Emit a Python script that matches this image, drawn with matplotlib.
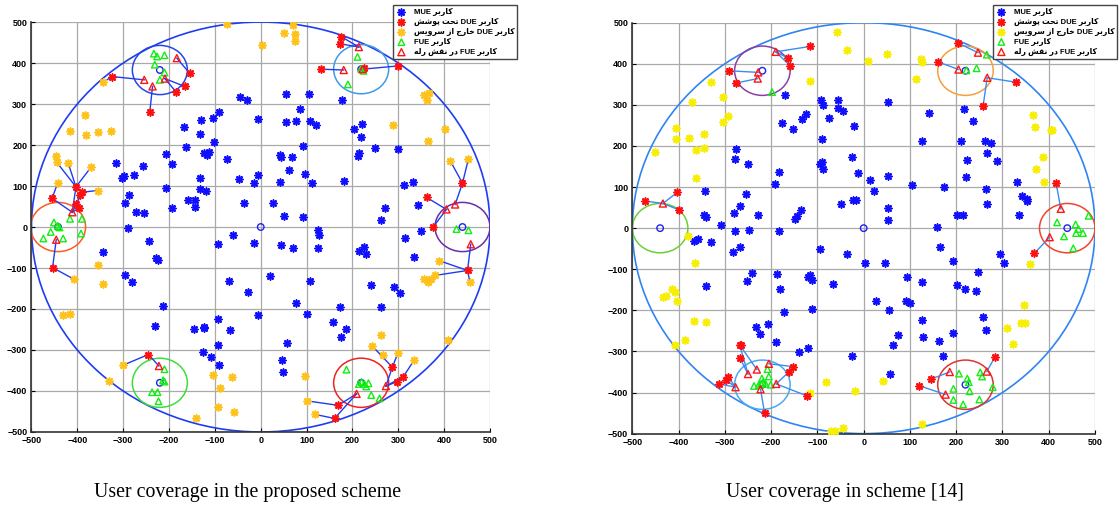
import numpy as np
import matplotlib.pyplot as plt
from matplotlib.patches import Circle

# ---------------- data: left panel (proposed scheme) ----------------
left_mue = [(-46, 316), (-29, 311), (-6, 264), (-91, 280), (-104, 266), (-131, 262), (-167, 245),
            (-132, 228), (-101, 207), (-164, 194), (-124, 181), (-118, 176), (-112, 184), (-206, 179),
            (-74, 165), (-194, 153), (-256, 149), (-315, 156), (-299, 124), (-302, 120), (-276, 128),
            (-132, 120), (-47, 116), (-6, 126), (-15, 107), (-287, 77), (-295, 59), (-206, 95),
            (-132, 92), (-120, 87), (-194, 47), (-158, 65), (-144, 65), (-144, 50), (-271, 37),
            (-255, 33), (-289, -2), (-36, 58),
            (55, 325), (105, 325), (177, 309), (86, 288), (55, 257), (76, 258), (108, 259), (120, 249),
            (203, 239), (221, 252), (218, 220), (249, 193), (300, 190), (92, 197), (41, 175), (44, 170),
            (68, 172), (214, 181), (212, 174), (62, 138), (96, 130), (43, 110), (111, 108), (181, 112),
            (312, 102), (331, 110), (27, 59), (50, 28), (92, 24), (271, 46), (342, 53), (263, 16),
            (124, -7), (127, -19), (315, -28), (350, -9), (44, -44), (71, -52), (124, -50), (225, -49),
            (-345, -60), (-243, -34), (-228, -75), (-225, -80), (-297, -117), (-281, -133), (-213, -193),
            (-230, -241), (-145, -250), (-124, -243), (-123, -246), (-94, -41), (-60, -19), (-15, -39),
            (-70, -131), (-28, -159), (-7, -215), (20, -120), (-94, -225), (-68, -251), (-93, -289),
            (-126, -304), (-109, -318), (-92, -337),
            (214, -59), (229, -65), (334, -72), (108, -131), (76, -185), (100, -211), (172, -194),
            (263, -196), (240, -141), (290, -146), (304, -162), (157, -232), (186, -249), (174, -269),
            (57, -284), (46, -325), (49, -354)]
left_due_out = [(-73, 495), (3, 443), (-344, 353), (-384, 274), (-417, 235), (-382, 225), (-354, 231),
                (-326, 234), (-446, 173), (-445, 158), (-420, 156), (-370, 146), (-356, 89), (-443, 107),
                (50, 474), (70, 492), (75, 470), (75, 454), (355, 322), (368, 327), (363, 311), (288, 248),
                (401, 240), (364, 211), (413, 162), (453, 166),
                (-354, -92), (-343, -138), (-408, -127), (-432, -215), (-415, -211), (-300, -337),
                (-331, -376), (-105, -360), (-62, -366), (-88, -393), (-93, -438), (-58, -451), (-142, -465),
                (389, -82), (355, -127), (365, -134), (372, -126), (381, -118), (456, -133), (262, -263),
                (409, -275), (243, -290), (267, -312), (299, -308), (335, -324), (97, -363), (100, -424),
                (118, -457)]
left_due_cov = [(-324, 367), (-242, 280), (-166, 343), (-185, 330), (-155, 375), (-403, 98), (-455, 70),
                (-389, 85), (-395, 79), (-397, 46), (-402, 55), (176, 464), (173, 447), (131, 385),
                (225, 388), (300, 393), (440, 107), (362, 72), (376, 0), (-454, -99), (-245, -311),
                (451, -106), (287, -342), (311, -365), (298, -377), (169, -435), (161, -467)]
left_fue_relay = [(-254, 359), (-236, 343), (-209, 362), (-183, 412), (-411, 36), (-446, -31),
                  (214, 439), (181, 383), (222, 385), (405, 43), (424, 55), (458, -42),
                  (-222, -339), (209, -407), (273, -388)]
left_fue = [(-233, 423), (-226, 416), (-210, 419), (-231, 396), (-210, 377), (-220, 359),
            (-451, 11), (-443, 3), (-439, -1), (-458, -12), (-474, -28), (-431, -28), (-416, 20),
            (-390, 20), (-392, -16), (211, 415), (190, 348), (219, 386), (224, 381), (427, -5), (453, -8),
            (-210, -347), (-213, -374), (-210, -377), (-225, -403), (-237, -403), (-223, -425),
            (187, -348), (220, -378), (214, -383), (226, -383), (235, -381), (230, -389), (241, -410),
            (259, -418)]
left_fbs = [(0, 0), (-220, 383), (219, 385), (-442, 0), (440, 0), (-220, -380), (219, -380)]
left_cell_colors = ['#2446e8', '#3d9be9', '#ff5a24', '#6a2ca8', '#3ddc3d', '#ee2222']
left_links = [(-324, 367, -254, 359), (-324, 367, -344, 353), (-242, 280, -236, 343),
              (-166, 343, -209, 362), (-185, 330, -209, 362), (-155, 375, -183, 412),
              (-403, 98, -445, 158), (-403, 98, -420, 156), (-403, 98, -370, 146), (-403, 98, -411, 36),
              (-455, 70, -443, 107), (-455, 70, -411, 36), (-389, 85, -356, 89), (-389, 85, -411, 36),
              (-397, 46, -411, 36), (-454, -99, -446, -31), (-454, -99, -408, -127),
              (-245, -311, -222, -339), (-245, -311, -300, -337),
              (176, 464, 214, 439), (173, 447, 214, 439), (131, 385, 181, 383), (300, 393, 222, 385),
              (440, 107, 413, 162), (440, 107, 453, 166), (440, 107, 424, 55), (362, 72, 405, 43),
              (376, 0, 405, 43), (389, -82, 451, -106), (381, -118, 451, -106), (451, -106, 456, -133),
              (451, -106, 458, -42), (243, -290, 287, -342), (299, -308, 287, -342), (287, -342, 273, -388),
              (335, -324, 311, -365), (311, -365, 273, -388), (298, -377, 273, -388),
              (100, -424, 169, -435), (169, -435, 209, -407), (118, -457, 161, -467), (161, -467, 209, -407)]

# ---------------- data: right panel (scheme [14]) ----------------
right_mue = [(-169, 323), (-177, 257), (-152, 242), (-133, 265), (-125, 277), (-93, 312), (-88, 300),
             (-55, 311), (-56, 293), (-44, 284), (-75, 269), (-20, 249), (-91, 216), (-26, 173),
             (-12, 135), (-94, 155), (-91, 160), (-89, 143), (-277, 193), (-279, 169), (-251, 156),
             (-184, 136), (-191, 108), (13, 117), (-342, 90), (-255, 83), (-267, 55), (-281, 36),
             (-346, 32), (-341, 28), (-228, 31), (-135, 45), (-144, 30), (-148, 22), (-49, 58), (-23, 68),
             (-17, 68), (-308, 7), (-278, -7), (-248, -5), (-184, -6), (-359, -27), (-366, -32),
             (-329, -34), (-267, -45), (-94, -50),
             (52, 306), (141, 280), (217, 289), (236, 261), (126, 211), (211, 212), (263, 212), (276, 207),
             (224, 166), (267, 182), (289, 164), (52, 126), (23, 91), (105, 104), (173, 101), (222, 125),
             (265, 96), (332, 112), (342, 79), (353, 71), (354, 66), (52, 48), (52, 20), (202, 32),
             (215, 32), (267, 58), (335, 32), (158, 3), (166, -45),
             (-283, -58), (-241, -108), (-252, -129), (-188, -111), (-180, -148), (-173, -204), (-35, -63),
             (3, -86), (-121, -120), (-117, -115), (-112, -127), (-67, -135), (-112, -196), (-341, -140),
             (-232, -241), (-224, -258), (-207, -234), (-190, -276), (-139, -302), (-121, -292), (-25, -312),
             (47, -86), (194, -80), (294, -63), (303, -86), (248, -106), (94, -118), (126, -130),
             (202, -139), (219, -148), (243, -153), (27, -178), (92, -178), (100, -181), (54, -200),
             (125, -224), (258, -217), (265, -249), (194, -254), (74, -259), (128, -266), (163, -274),
             (63, -285), (172, -310), (56, -356)]
right_due_out = [(-57, 478), (-35, 433), (9, 407), (-117, 359), (-329, 355), (-304, 320), (-372, 307),
                 (-294, 272), (-304, 259), (-405, 244), (-405, 216), (-378, 220), (-346, 229), (-346, 195),
                 (-362, 190), (-451, 185), (-362, 121), (-379, -19),
                 (51, 424), (124, 412), (126, 404), (113, 364), (367, 276), (370, 247), (404, 240),
                 (408, 240), (387, 174), (372, 145), (390, 113),
                 (-365, -84), (-415, -148), (-407, -156), (-433, -168), (-428, -164), (-403, -178),
                 (-366, -226), (-341, -228), (-386, -272), (-407, -285), (-82, -374), (-115, -401),
                 (-19, -396), (-71, -494), (-61, -494), (-45, -486),
                 (360, -88), (347, -187), (348, -230), (339, -230), (310, -243), (323, -281), (42, -373),
                 (125, -476)]
right_due_cov = [(-117, 442), (-164, 414), (-159, 395), (-292, 383), (-276, 353), (-473, 66), (-403, 87),
                 (-400, 45), (203, 451), (160, 405), (330, 355), (258, 297), (416, 109),
                 (-268, -284), (-266, -285), (-268, -315), (-293, -362), (-297, -370), (-312, -379),
                 (-152, -337), (-161, -349), (-123, -408), (-214, -451),
                 (369, -61), (284, -313), (146, -367), (119, -383)]
right_fue_relay = [(-190, 429), (-228, 379), (-229, 364), (-434, 60), (247, 427), (205, 386), (267, 366),
                   (426, 47), (402, -22), (-231, -344), (-250, -355), (-277, -387), (-205, -330),
                   (-189, -379), (-223, -392), (186, -350), (177, -405), (266, -349)]
right_fue = [(-198, 331), (266, 422), (222, 384), (244, 389), (418, 14), (458, 9), (464, -2), (459, -12),
             (474, -12), (433, -20), (486, 30), (453, -49),
             (-208, -343), (-205, -361), (-220, -366), (-218, -375), (-222, -379), (-212, -379),
             (-237, -384), (-227, -382), (-201, -381),
             (206, -354), (252, -351), (256, -361), (224, -366), (227, -375), (229, -397), (194, -391),
             (279, -387), (194, -418), (215, -429), (250, -417)]
right_fbs = [(0, 0), (-219, 383), (220, 383), (-440, 0), (440, 0), (-219, -381), (220, -381)]
right_cell_colors = ['#8a3fa6', '#f4a03c', '#6ccf35', '#ee4430', '#4aa8ee', '#dd3333']
right_links = [(-190, 429, -117, 442), (-190, 429, -164, 414), (-190, 429, -159, 395),
               (-292, 383, -228, 379), (-276, 353, -229, 364), (-473, 66, -434, 60), (-403, 87, -434, 60),
               (-400, 45, -434, 60), (203, 451, 247, 427), (160, 405, 205, 386), (267, 366, 330, 355),
               (267, 366, 258, 297), (416, 109, 426, 47), (402, -22, 369, -61),
               (-268, -284, -231, -344), (-268, -284, -250, -355), (-268, -315, -250, -355),
               (-293, -362, -277, -387), (-312, -379, -277, -387), (-297, -370, -277, -387),
               (-152, -337, -205, -330), (-161, -349, -189, -379), (-123, -408, -189, -379),
               (-214, -451, -223, -392), (284, -313, 266, -349), (146, -367, 186, -350),
               (119, -383, 177, -405)]

legend_labels = ['کاربر MUE', 'کاربر DUE تحت پوشش', 'کاربر DUE خارج از سرویس',
                 'کاربر FUE', 'کاربر FUE در نقش رله']
captions = ['User coverage in the proposed scheme', 'User coverage in scheme [14]']
ticks = np.arange(-500, 501, 100)
cell_radius = 60
area_radius = 500

# Persian letters -> (isolated, final, initial, medial) presentation forms
FORMS = {
    'ا': (0xFE8D, 0xFE8E, None, None), 'ب': (0xFE8F, 0xFE90, 0xFE91, 0xFE92),
    'ت': (0xFE95, 0xFE96, 0xFE97, 0xFE98), 'ج': (0xFE9D, 0xFE9E, 0xFE9F, 0xFEA0),
    'ح': (0xFEA1, 0xFEA2, 0xFEA3, 0xFEA4), 'خ': (0xFEA5, 0xFEA6, 0xFEA7, 0xFEA8),
    'د': (0xFEA9, 0xFEAA, None, None), 'ر': (0xFEAD, 0xFEAE, None, None),
    'ز': (0xFEAF, 0xFEB0, None, None), 'س': (0xFEB1, 0xFEB2, 0xFEB3, 0xFEB4),
    'ش': (0xFEB5, 0xFEB6, 0xFEB7, 0xFEB8), 'ق': (0xFED5, 0xFED6, 0xFED7, 0xFED8),
    'ل': (0xFEDD, 0xFEDE, 0xFEDF, 0xFEE0), 'ن': (0xFEE5, 0xFEE6, 0xFEE7, 0xFEE8),
    'ه': (0xFEE9, 0xFEEA, 0xFEEB, 0xFEEC), 'و': (0xFEED, 0xFEEE, None, None),
    'پ': (0xFB56, 0xFB57, 0xFB58, 0xFB59), 'ک': (0xFB8E, 0xFB8F, 0xFB90, 0xFB91),
    'ی': (0xFBFC, 0xFBFD, 0xFBFE, 0xFBFF),
}


def shape_word(w):
    out = ''
    for i, c in enumerate(w):
        f = FORMS[c]
        prev_j = i > 0 and FORMS[w[i - 1]][2] is not None
        next_j = i < len(w) - 1 and f[2] is not None
        if prev_j and next_j:
            out += chr(f[3])
        elif prev_j:
            out += chr(f[1])
        elif next_j:
            out += chr(f[2])
        else:
            out += chr(f[0])
    return out[::-1]


def fa(text):
    # matplotlib has no bidi/shaping, so order the words right-to-left by hand
    words = [shape_word(w) if w[0] in FORMS else w for w in text.split(' ')]
    return ' '.join(words[::-1])


def draw_panel(ax, mue, due_cov, due_out, fue, relay, fbs, cell_colors, links,
               area_color, link_color, yellow, legend_anchor):
    for x1, y1, x2, y2 in links:
        ax.plot([x1, x2], [y1, y2], color=link_color, lw=1.0, zorder=3)
    ax.add_patch(Circle((0, 0), area_radius, fill=False, ec=area_color, lw=1.2, zorder=2))
    for (cx, cy), c in zip(fbs[1:], cell_colors):
        ax.add_patch(Circle((cx, cy), cell_radius, fill=False, ec=c, lw=1.1, zorder=2))
    ast = (8, 2, 0)
    h1 = ax.scatter(*zip(*mue), marker=ast, s=24, color='#1010ff', lw=1.2, zorder=4)
    h2 = ax.scatter(*zip(*due_cov), marker=ast, s=24, color='#ff1010', lw=1.2, zorder=5)
    h3 = ax.scatter(*zip(*due_out), marker=ast, s=24, color=yellow, lw=1.2, zorder=4)
    ax.scatter(*zip(*fbs), marker='o', s=22, facecolor='none', edgecolor='#2020ee', lw=1.0, zorder=5)
    h4 = ax.scatter(*zip(*fue), marker='^', s=22, facecolor='none', edgecolor='#11ee11', lw=1.0, zorder=6)
    h5 = ax.scatter(*zip(*relay), marker='^', s=26, facecolor='none', edgecolor='#ff1515', lw=1.0, zorder=6)

    ax.set_xlim(-500, 500)
    ax.set_ylim(-500, 500)
    ax.set_xticks(ticks)
    ax.set_yticks(ticks)
    ax.grid(True, color='#aaaaaa', lw=0.9)
    ax.set_axisbelow(True)
    for s in ['top', 'right']:
        ax.spines[s].set_visible(False)
    for s in ['left', 'bottom']:
        ax.spines[s].set_color('#333333')
        ax.spines[s].set_linewidth(1.2)
    ax.tick_params(direction='in', length=3, width=0.8, labelsize=6.5, pad=3)
    for lab in ax.get_xticklabels() + ax.get_yticklabels():
        lab.set_fontfamily('Liberation Sans')
        lab.set_fontweight('bold')

    leg = ax.legend([h1, h2, h3, h4, h5], [fa(t) for t in legend_labels],
                    loc='upper right', bbox_to_anchor=legend_anchor, fancybox=False,
                    framealpha=1, edgecolor='#444444', borderpad=0.35, labelspacing=0.25,
                    handlelength=1.6, handletextpad=0.8, borderaxespad=0,
                    prop={'family': ['Liberation Sans', 'DejaVu Sans'], 'weight': 'bold', 'size': 5.5})
    leg.get_frame().set_linewidth(1.0)
    leg.set_zorder(10)


fig = plt.figure(figsize=(11.2, 5.15), dpi=100)
ax1 = fig.add_axes([0.0281, 0.1612, 0.4094, 0.796])
ax2 = fig.add_axes([0.5646, 0.158, 0.4131, 0.798])

draw_panel(ax1, left_mue, left_due_cov, left_due_out, left_fue, left_fue_relay, left_fbs,
           left_cell_colors, left_links, '#1f3cf2', '#1f3cf2', '#ffc21a', (1.059, 1.041))
draw_panel(ax2, right_mue, right_due_cov, right_due_out, right_fue, right_fue_relay, right_fbs,
           right_cell_colors, right_links, '#2f84f4', '#3a8cf0', '#f8ee00', (1.0475, 1.043))

fig.text(0.221, 1 - 492 / 515, captions[0], ha='center', va='center',
         fontsize=14.3, family='Liberation Serif')
fig.text(0.754, 1 - 492 / 515, captions[1], ha='center', va='center',
         fontsize=14.3, family='Liberation Serif')

fig.savefig('out.png', dpi=100)
